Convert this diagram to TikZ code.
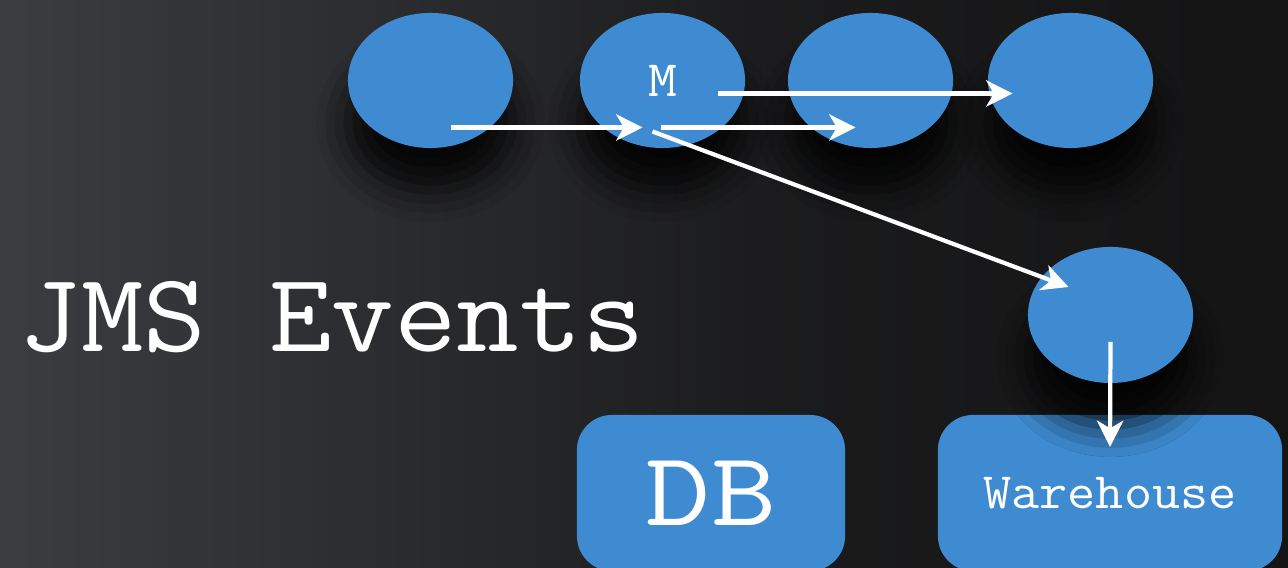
\documentclass[tikz,border=0pt]{standalone}
\usepackage{fontspec}
\usepackage{tikz}
\usetikzlibrary{shapes.geometric,arrows.meta,shadows.blur}
\definecolor{nodeblue}{RGB}{62,139,209}
\definecolor{bglight}{RGB}{66,68,72}
\definecolor{bgdark}{RGB}{20,20,21}
\pgfdeclarehorizontalshading{slateshade}{100bp}{color(0bp)=(bglight); color(25bp)=(bglight!85!bgdark); color(55bp)=(bgdark!85!bglight); color(75bp)=(bgdark); color(100bp)=(bgdark)}

\begin{document}
\begin{tikzpicture}[
  x=0.01cm, y=-0.01cm,
  evt/.style={ellipse, fill=nodeblue, minimum width=1.65cm, minimum height=1.35cm, inner sep=0pt,
    font=\ttfamily\fontsize{14.5}{16}\selectfont, text=white,
    blur shadow={shadow xshift=0pt, shadow yshift=-12pt, shadow blur radius=9pt, shadow opacity=85}},
  store/.style={rectangle, rounded corners=0.35cm, fill=nodeblue, minimum height=1.56cm, inner sep=0pt, text=white},
  flow/.style={-{Stealth[length=7.5pt, width=7.5pt, inset=2.2pt]}, white, line width=1.2pt},
  wide/.style={font=\ttfamily\fontsize{#1}{#1}\selectfont},
]
\useasboundingbox (0,0) rectangle (1288,568);
\clip (0,0) rectangle (1288,568);
\shade[shading=slateshade] (0,0) rectangle (1288,568);

% stores
\node[store, minimum width=2.68cm] (db) at (711,493) {\scalebox{1.2}[1]{\ttfamily\fontsize{30}{32}\selectfont DB}};
\node[store, minimum width=3.44cm] (wh) at (1110,493) {\scalebox{1.07}[1]{\ttfamily\fontsize{14.5}{16}\selectfont Warehouse}};

% event nodes
\node[evt] (e1) at (430.5,80.5) {};
\node[evt] (e2) at (662.5,80.5) {\scalebox{1.1}[1]{M}};
\node[evt] (e3) at (870.5,80.5) {};
\node[evt] (e4) at (1070.5,80.5) {};
\node[evt, minimum height=1.36cm] (e5) at (1110.5,315) {};

% title
\node[text=white, anchor=base west, inner sep=0pt] (title) at (18,352) {\scalebox{1.08}[1]{\ttfamily\fontsize{32}{36}\selectfont JMS Events}};

% flows
\draw[flow] ([shift={(20,47)}]e1.center) -- ([shift={(-20,47)}]e2.center);
\draw[flow] ([shift={(-2,47)}]e2.center) -- ([shift={(-15,47)}]e3.center);
\draw[flow] ([shift={(55,13)}]e2.center) -- ([shift={(-58,13)}]e4.center);
\draw[flow] ([shift={(-10,51)}]e2.center) -- ([shift={(-42,-28)}]e5.center);
\draw[flow] ([shift={(0,27)}]e5.center) -- ([shift={(0,-46)}]wh.center);
\end{tikzpicture}
\end{document}
